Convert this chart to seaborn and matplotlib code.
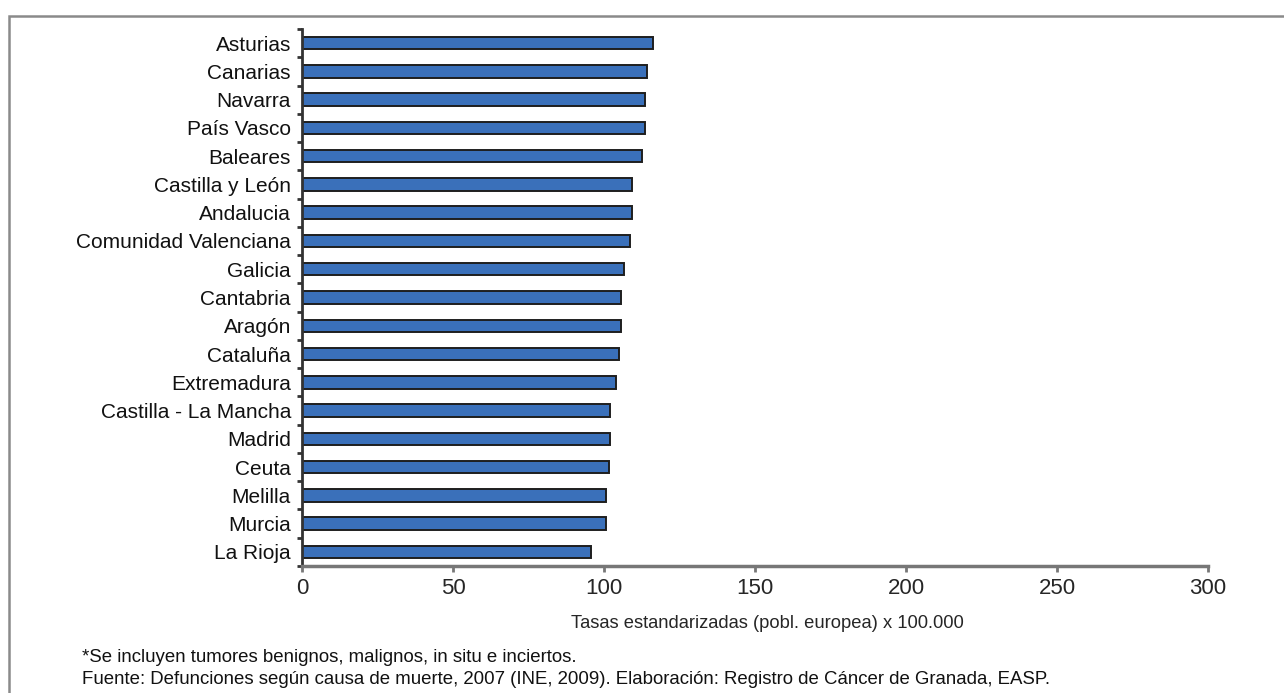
import matplotlib
matplotlib.use("Agg")
import matplotlib.pyplot as plt
from matplotlib.patches import Rectangle
import seaborn as sns
import pandas as pd
import numpy as np

regions = ["Asturias", "Canarias", "Navarra", "País Vasco", "Baleares",
           "Castilla y León", "Andalucia", "Comunidad Valenciana", "Galicia",
           "Cantabria", "Aragón", "Cataluña", "Extremadura",
           "Castilla - La Mancha", "Madrid", "Ceuta", "Melilla", "Murcia",
           "La Rioja"]
rates = [116.2, 114.2, 113.7, 113.7, 112.7, 109.4, 109.3, 108.7, 106.6,
         105.6, 105.6, 105.1, 104.0, 102.1, 102.1, 101.7, 100.8, 100.8, 95.7]
xticks = [0, 50, 100, 150, 200, 250, 300]
xlabel = "Tasas estandarizadas (pobl. europea) x 100.000"
note1 = "*Se incluyen tumores benignos, malignos, in situ e inciertos."
note2 = ("Fuente: Defunciones según causa de muerte, 2007 (INE, 2009). "
         "Elaboración: Registro de Cáncer de Granada, EASP.")

sns.set_style("white")
plt.rcParams["font.family"] = ["Liberation Sans", "DejaVu Sans"]

df = pd.DataFrame({"region": regions, "rate": rates})

fig = plt.figure(figsize=(12.84, 6.93), dpi=100)
ax = fig.add_axes([302 / 1284, 127 / 693, (1208 - 302) / 1284, (566 - 29) / 693])

sns.barplot(data=df, x="rate", y="region", orient="h", color="#3a70ba",
            saturation=1, width=0.44, edgecolor="#1e1e1e", linewidth=1.4,
            ax=ax)

ax.set_xlim(0, 300)
ax.set_ylim(len(regions) - 0.5, -0.5)
ax.set_xticks(xticks)
ax.set_xticklabels([str(t) for t in xticks], fontsize=16)
ax.set_xlabel(xlabel, fontsize=13.2)
ax.xaxis.set_label_coords((767 - 302) / (1208 - 302), -49 / (566 - 29))
ax.set_ylabel("")
ax.tick_params(axis="y", which="major", left=False, length=0, labelsize=15,
               pad=8)
ax.set_yticks(np.arange(-0.5, len(regions) + 0.5, 1), minor=True)
ax.tick_params(axis="y", which="minor", left=True, length=3.5, width=2,
               color="#333333", direction="out")
ax.tick_params(axis="x", which="major", bottom=True, length=4.5, width=2,
               color="#777777", direction="out", pad=4)
for lab in ax.get_yticklabels():
    lab.set_color("#111111")

for side in ["top", "right"]:
    ax.spines[side].set_visible(False)
ax.spines["left"].set_color("#333333")
ax.spines["left"].set_linewidth(2)
ax.spines["bottom"].set_color("#777777")
ax.spines["bottom"].set_linewidth(2.5)

fig.text(82 / 1284, 1 - 657 / 693, note1, fontsize=13.4, va="center",
         ha="left", color="#111111")
fig.text(82 / 1284, 1 - 680 / 693, note2, fontsize=13.4, va="center",
         ha="left", color="#111111")

fig.patches.append(Rectangle((9 / 1284, -0.1), 1.2, 1.1 - 16 / 693,
                             transform=fig.transFigure, fill=False,
                             edgecolor="#8a8a8a", linewidth=1.8,
                             clip_on=False))

fig.savefig("out.png", dpi=100, facecolor="white")
